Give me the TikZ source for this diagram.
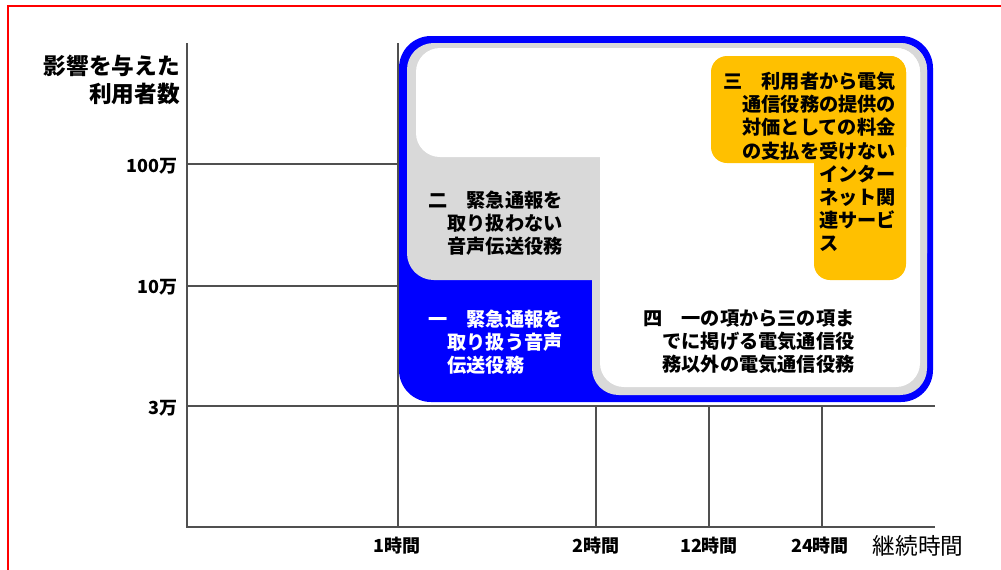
\documentclass[tikz,border=0pt]{standalone}
\usepackage{fontspec}
\setmainfont{Noto Sans CJK JP}
\definecolor{refblue}{HTML}{0000FF}
\definecolor{refgray}{HTML}{D9D9D9}
\definecolor{refyellow}{HTML}{FFC000}
\definecolor{gridc}{HTML}{505050}
\definecolor{framered}{HTML}{FF0000}
\newcommand\blkfont{\bfseries\fontsize{14.4}{17.4}\selectfont}
\newcommand\tickfont{\bfseries\fontsize{13.5}{16}\selectfont}
\newcommand\titlefont{\fontsize{17}{21}\selectfont}
\begin{document}
\begin{tikzpicture}[x=0.75pt,y=-0.75pt,
  gridline/.style={draw=gridc,line width=1.1pt},
  blk/.style={font=\blkfont,align=left,inner sep=0pt,anchor=west},
  tick/.style={font=\tickfont,inner sep=0pt},
  axtitle/.style={font=\titlefont,inner sep=0pt}]
\useasboundingbox (0,0) rectangle (1001,569);
\fill[white] (0,0) rectangle (1001,569);
% red frame
\draw[framered,line width=1.2pt] (8,575) -- (8,6) -- (1010,6);
% coordinates of the grid
\coordinate (o) at (187,527);
\coordinate (ytop) at (187,43);
\coordinate (xend) at (935,527);
\coordinate (v1t) at (398,43);
\coordinate (v1b) at (398,527);
% grid
\draw[gridline] (ytop) -- (o) -- (xend);
\draw[gridline] (v1t) -- (v1b);
\draw[gridline] (187,164) -- (420,164);
\draw[gridline] (187,286) -- (420,286);
\draw[gridline] (187,406) -- (935,406);
\draw[gridline] (596,406) -- (596,527);
\draw[gridline] (709,406) -- (709,527);
\draw[gridline] (822,406) -- (822,527);
% blue outer
\fill[refblue,rounded corners=24] (399,36) rectangle (933,402);
% gray L shape
\fill[refgray,rounded corners=20] (407,43) rectangle (927,280);
\fill[refgray,rounded corners=20] (592,43) rectangle (927,395);
% white L shape
\fill[white,rounded corners=18] (416,48) rectangle (920,157);
\fill[white,rounded corners=18] (600,48) rectangle (920,387);
% yellow L shape
\fill[refyellow,rounded corners=12] (711,56) rectangle (906,163);
\fill[refyellow,rounded corners=12] (814,56) rectangle (906,280);
% block texts
\node[blk] (n2) at (428,223) {二　緊急通報を\\\hspace*{1em}取り扱わない\\\hspace*{1em}音声伝送役務};
\node[blk,text=white] (n1) at (428,342) {一　緊急通報を\\\hspace*{1em}取り扱う音声\\\hspace*{1em}伝送役務};
\node[blk] (n3) at (723,162) {三　利用者から電気\\\hspace*{1em}通信役務の提供の\\\hspace*{1em}対価としての料金\\\hspace*{1em}の支払を受けない\\\hspace*{5em}インター\\\hspace*{5em}ネット関\\\hspace*{5em}連サービ\\\hspace*{5em}ス};
\node[blk] (n4) at (643,342) {四　一の項から三の項ま\\\hspace*{1em}でに掲げる電気通信役\\\hspace*{1em}務以外の電気通信役務};
% axis labels
\node[axtitle,align=right,anchor=east] (ylab) at (180,80) {\bfseries 影響を与えた\\\bfseries 利用者数};
\node[tick,anchor=east] (t100) at (178,166) {100万};
\node[tick,anchor=east] (t10) at (178,287) {10万};
\node[tick,anchor=east] (t3) at (178,408) {3万};
\node[tick] (h1) at (397,546) {1時間};
\node[tick] (h2) at (596,546) {2時間};
\node[tick] (h12) at (709,546) {12時間};
\node[tick] (h24) at (820,546) {24時間};
\node[axtitle] (xlab) at (918,546) {継続時間};
\end{tikzpicture}
\end{document}
